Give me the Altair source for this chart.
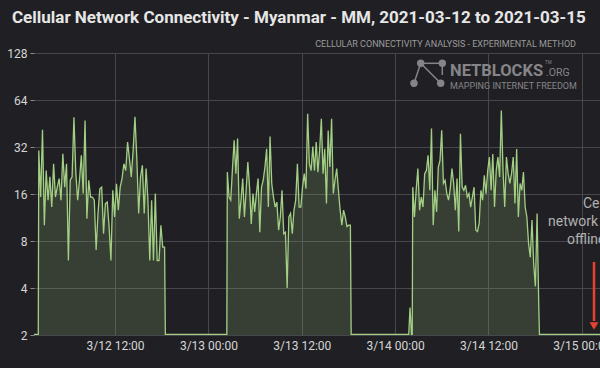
import altair as alt
import pandas as pd

TITLE = "Cellular Network Connectivity - Myanmar - MM, 2021-03-12 to 2021-03-15"
SUBTITLE = "CELLULAR CONNECTIVITY ANALYSIS - EXPERIMENTAL METHOD"
ANNOT_LINES = ["Cellular", "network", "offline"]

y_ticks = [2, 4, 8, 16, 32, 64, 128]
x_tick_times = ["2021-03-12 12:00", "2021-03-13 00:00", "2021-03-13 12:00",
                "2021-03-14 00:00", "2021-03-14 12:00", "2021-03-15 00:00"]
x_domain = ["2021-03-12 01:35", "2021-03-15 02:20"]

seg1_span = ("2021-03-12 02:12", "2021-03-12 18:22")
seg1_values = [30.4, 15.3, 41.3, 10.1, 22.6, 14.6, 20.6, 13.2, 25.0, 15.3, 17.7, 20.1,
               14.6, 29.0, 17.7, 25.0, 6.0, 19.6, 20.6, 49.7, 22.1, 14.6, 19.6, 28.3,
               16.1, 47.3, 11.1, 19.6, 15.3, 15.3, 14.6, 7.0, 12.0, 17.3, 17.7, 8.9,
               13.9, 14.2, 9.9, 6.0, 16.9, 11.4, 18.6, 12.6, 17.7, 20.1, 25.0, 22.6,
               34.4, 26.9, 20.6, 30.4, 50.0, 26.9, 12.0, 20.6, 24.4, 12.0, 23.3, 14.6,
               6.0, 14.6, 6.0, 16.1, 6.0, 6.0, 10.1, 7.3, 7.3]

seg2_span = ("2021-03-13 02:26", "2021-03-13 18:15")
seg2_values = [22.1, 15.3, 14.6, 23.3, 35.3, 21.6, 36.3, 11.1, 14.6, 20.1, 11.4, 16.9,
               25.6, 17.7, 10.3, 16.1, 12.3, 16.1, 20.1, 9.1, 17.7, 19.6, 23.8, 31.2,
               13.2, 37.3, 18.6, 15.3, 13.2, 14.2, 9.4, 11.4, 16.9, 8.9, 9.1, 4.0,
               11.4, 12.0, 8.9, 12.6, 14.6, 25.0, 13.2, 13.2, 17.7, 21.6, 17.3, 52.3,
               25.0, 22.6, 32.2, 22.6, 34.4, 22.1, 30.4, 48.5, 21.6, 31.2, 13.9, 40.8,
               23.8, 48.5, 16.1, 19.6, 23.3, 16.9, 12.6, 10.1, 12.6, 11.4, 9.9, 10.1, 10.1]

seg3_span = ("2021-03-14 02:16", "2021-03-14 18:28")
seg3_values = [17.7, 11.4, 16.9, 23.3, 12.6, 15.3, 13.2, 21.6, 22.6, 28.3, 16.9, 42.0,
               10.1, 16.9, 12.3, 23.8, 26.3, 40.9, 18.7, 19.6, 16.1, 14.6, 17.3, 23.3,
               18.7, 12.6, 20.1, 9.2, 38.9, 17.7, 16.9, 18.2, 15.3, 16.1, 13.2, 15.3,
               17.7, 9.4, 9.2, 10.4, 16.9, 14.6, 21.1, 16.1, 22.6, 27.6, 16.9, 28.8,
               13.2, 22.6, 27.6, 20.6, 54.9, 22.6, 13.2, 27.6, 21.6, 18.7, 21.6, 27.6,
               13.9, 31.1, 11.4, 18.7, 16.9, 22.1, 13.2, 11.4, 7.7, 6.3, 10.9, 5.7,
               4.1, 12.0, 3.0]

base_times = ["2021-03-12 01:35", "2021-03-12 02:08", "2021-03-12 18:28",
              "2021-03-13 02:22", "2021-03-13 18:21", "2021-03-14 01:45",
              "2021-03-14 01:55", "2021-03-14 02:06", "2021-03-14 02:12",
              "2021-03-14 18:33", "2021-03-15 02:20"]
base_values = [2.02, 2.02, 2.02, 2.02, 2.02, 2.02, 3.0, 2.02, 2.02, 2.02, 2.02]

rows = []
for (start, end), vals in [(seg1_span, seg1_values), (seg2_span, seg2_values),
                           (seg3_span, seg3_values)]:
    times = pd.date_range(start, end, periods=len(vals))
    rows += [{"time": t, "value": v} for t, v in zip(times, vals)]
rows += [{"time": pd.Timestamp(t), "value": v} for t, v in zip(base_times, base_values)]
df = pd.DataFrame(rows).sort_values("time").reset_index(drop=True)
df["time"] = df["time"].dt.strftime("%Y-%m-%dT%H:%M:%S")


def dt(s):
    t = pd.Timestamp(s)
    return alt.DateTime(year=t.year, month=t.month, date=t.day, hours=t.hour, minutes=t.minute)


BG = "#202024"
GRID = "#48484c"
LABEL = "#d6d6d6"
LINE = "#a3cf84"
FILL = "#96be78"
LOGO = "#858589"
RED = "#e5432f"

x_enc = alt.X("time:T", scale=alt.Scale(domain=[dt(x_domain[0]), dt(x_domain[1])]),
              axis=alt.Axis(values=[dt(s) for s in x_tick_times], format="%-m/%-d %H:%M",
                            title=None, ticks=False, domain=False, labelPadding=5,
                            labelFlush=False, labelOverlap=False))
y_enc = alt.Y("value:Q", scale=alt.Scale(type="log", base=2, domain=[2, 128]),
              axis=alt.Axis(values=y_ticks, format="d", title=None, domain=False,
                            tickSize=4, tickColor="#8a8a8a", labelPadding=3))

base = alt.Chart(df)
area = base.mark_area(color=FILL, opacity=0.2, clip=True).encode(x=x_enc, y=y_enc, y2=alt.datum(2))
line = base.mark_line(color=LINE, strokeWidth=1.3, clip=True).encode(x=x_enc, y=y_enc)

one = alt.Data(values=[{"k": 0}])


def txt(text, x, y, **kw):
    return alt.Chart(one).mark_text(text=text, baseline="alphabetic", **kw).encode(
        x=alt.value(x), y=alt.value(y))


layers = [area, line]
layers.append(txt(TITLE, -22, -30, align="left", fontSize=17, fontWeight="bold",
                  color="#e6e6e6", font="Roboto"))
layers.append(txt(SUBTITLE, 542, -6, align="right", fontSize=9, color="#9a9a9a", font="Roboto"))

# logo
layers.append(txt("NETBLOCKS", 416, 23, align="left", fontSize=16.5, fontWeight="bold",
                  color=LOGO, font="Roboto"))
layers.append(txt(".ORG", 512, 23, align="left", fontSize=10.5, color=LOGO, font="Roboto"))
layers.append(txt("TM", 511, 11, align="left", fontSize=4.5, color=LOGO, font="Roboto"))
layers.append(txt("MAPPING INTERNET FREEDOM", 416, 36, align="left", fontSize=9,
                  color=LOGO, font="Roboto"))
for (x1, y1, x2, y2) in [(386.7, 10.3, 380, 30.3), (386.7, 10.3, 406.7, 30.3),
                         (386.7, 10.3, 408.3, 10.3), (408.3, 10.3, 408.3, 22)]:
    layers.append(alt.Chart(one).mark_rule(color=LOGO, strokeWidth=1.5).encode(
        x=alt.value(x1), y=alt.value(y1), x2=alt.value(x2), y2=alt.value(y2)))
for (cx, cy) in [(386.7, 10.3), (408.3, 10.3), (380, 30.3), (406.7, 30.3)]:
    layers.append(alt.Chart(one).mark_point(shape="circle", filled=True, size=55,
                                            color=LOGO, opacity=1).encode(
        x=alt.value(cx), y=alt.value(cy)))

# annotation
for line_text, ax, ay in zip(ANNOT_LINES, [549, 514, 533], [155, 173, 191]):
    layers.append(txt(line_text, ax, ay, align="left", fontSize=14, color="#b0b0b0",
                      font="Roboto"))
layers.append(alt.Chart(one).mark_rule(color=RED, strokeWidth=2.5).encode(
    x=alt.value(560), y=alt.value(209), y2=alt.value(268)))
layers.append(alt.Chart(one).mark_point(shape="triangle-down", filled=True, size=80,
                                        color=RED, opacity=1).encode(
    x=alt.value(560), y=alt.value(273)))

chart = alt.layer(*layers).properties(
    width=566, height=282,
    autosize=alt.AutoSizeParams(type="none"),
    padding={"left": 34, "top": 53, "right": 0, "bottom": 33},
).configure(background=BG, font="Roboto").configure_view(stroke=None).configure_axis(
    gridColor=GRID, gridWidth=1, labelColor=LABEL, labelFontSize=12, labelFont="Roboto"
)

chart.save("out.html", embed_options={"renderer": "svg", "actions": False})
